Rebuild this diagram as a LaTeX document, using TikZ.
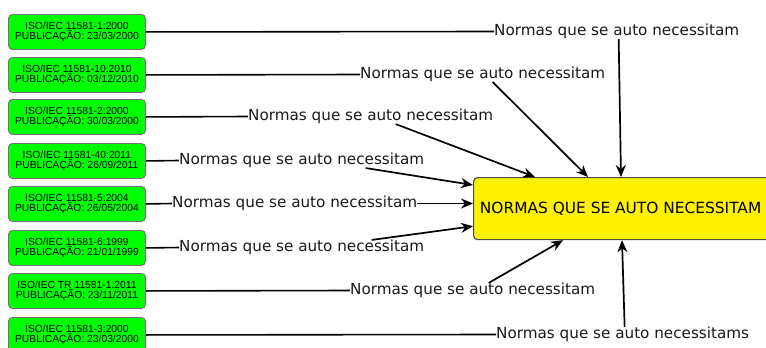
\documentclass[tikz,border=0pt]{standalone}
\usepackage{fontspec}
\setmainfont{DejaVu Sans}
\newfontfamily\boxfont{Liberation Sans}
\usetikzlibrary{arrows.meta}
\begin{document}
\begin{tikzpicture}[x=1pt,y=-1pt,
  gbox/.style={draw=black!55, fill=green, rounded corners=4pt, minimum width=137, minimum height=35,
    align=center, font=\boxfont\fontsize{10.3}{10.6}\selectfont, inner sep=0pt, line width=0.9pt, anchor=north west},
  lbl/.style={anchor=west, inner sep=0pt, font=\fontsize{15.2}{18}\selectfont, text=black!90},
  arr/.style={-{Stealth[length=12pt,width=10pt]}, line width=1.7pt},
  conn/.style={line width=1.6pt}]
\useasboundingbox (0,0) rectangle (766,348);
% green boxes
\node[gbox] (g1) at (8,14)  {ISO/IEC 11581-1:2000\\PUBLICAÇÃO: 23/03/2000};
\node[gbox] (g2) at (8,57)  {ISO/IEC 11581-10:2010\\PUBLICAÇÃO: 03/12/2010};
\node[gbox] (g3) at (8,99)  {ISO/IEC 11581-2:2000\\PUBLICAÇÃO: 30/03/2000};
\node[gbox] (g4) at (8,143) {ISO/IEC 11581-40:2011\\PUBLICAÇÃO: 26/09/2011};
\node[gbox] (g5) at (8,186) {ISO/IEC 11581-5:2004\\PUBLICAÇÃO: 26/05/2004};
\node[gbox] (g6) at (8,230) {ISO/IEC 11581-6:1999\\PUBLICAÇÃO: 21/01/1999};
\node[gbox] (g7) at (8,273) {ISO/IEC TR 11581-1:2011\\PUBLICAÇÃO: 23/11/2011};
\node[gbox] (g8) at (8,317) {ISO/IEC 11581-3:2000\\PUBLICAÇÃO: 23/03/2000};
% central box
\node[draw=black!70, fill=yellow, rounded corners=4pt, line width=1.2pt, minimum width=304, minimum height=62,
  anchor=north west, inner sep=0pt, font=\fontsize{15.4}{18}\selectfont] (Y) at (473,177) {\hspace*{2pt}NORMAS QUE SE AUTO NECESSITAM\hspace*{12pt}};
% labels
\node[lbl] (l1) at (494,31.5)  {Normas que se auto necessitam};
\node[lbl] (l2) at (360,74.5)  {Normas que se auto necessitam};
\node[lbl] (l3) at (248,116.5) {Normas que se auto necessitam};
\node[lbl] (l4) at (179,160.5) {Normas que se auto necessitam};
\node[lbl] (l5) at (172,203.5) {Normas que se auto necessitam};
\node[lbl] (l6) at (179,247.5) {Normas que se auto necessitam};
\node[lbl] (l7) at (350,290.5) {Normas que se auto necessitam};
\node[lbl] (l8) at (496,334.5) {Normas que se auto necessitams};
% lines box -> label
\foreach \i in {1,...,8} { \draw[conn] (g\i.east) -- (l\i.west); }
% arrows label -> central box
\draw[arr] ([xshift=2]l1.south) -- ([xshift=148]Y.north west);
\draw[arr] ([xshift=10]l2.south) -- ([xshift=115]Y.north west);
\draw[arr] ([xshift=25]l3.south) -- ([xshift=62]Y.north west);
\draw[arr] ([xshift=64]l4.south) -- ([yshift=-8]Y.north west);
\draw[arr] (l5.east) -- (Y.west |- l5.east);
\draw[arr] ([xshift=70]l6.north) -- ([yshift=14]Y.south west);
\draw[arr] ([xshift=16]l7.north) -- ([xshift=90]Y.south west);
\draw[arr] ([xshift=2]l8.north) -- ([xshift=149]Y.south west);
\end{tikzpicture}
\end{document}
